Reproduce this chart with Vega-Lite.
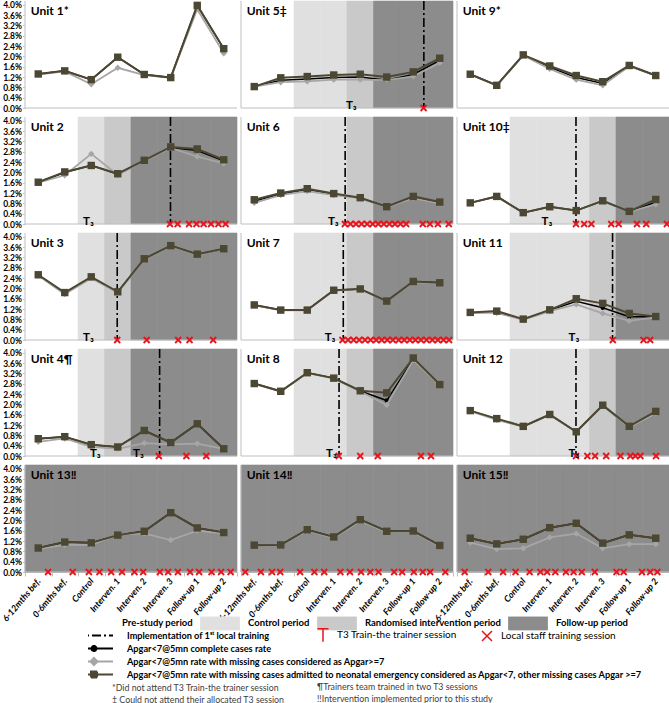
{
  "$schema": "https://vega.github.io/schema/vega-lite/v6.json",
  "padding": 0,
  "config": {
    "view": {"stroke": null},
    "font": "Lato",
    "axis": {"labelOverlap": false},
    "axisY": {"labelOverlap": false},
    "header": {"labels": false, "title": null, "labelPadding": 0, "titlePadding": 0},
    "headerFacet": {"labels": false, "title": null, "labelPadding": 0, "titlePadding": 0},
    "legend": {"padding": 0, "labelFont": "Lato", "titleFont": "Lato"}
  },
  "data": {
    "values": [
      {"kind": "m", "unit": "Unit 1*", "time": "6-12mths bef.", "period": "Pre-study period", "complete": 1.32, "missing": 1.30, "neonatal": 1.32},
      {"kind": "m", "unit": "Unit 1*", "time": "0-6mths bef.", "period": "Pre-study period", "complete": 1.44, "missing": 1.42, "neonatal": 1.44},
      {"kind": "m", "unit": "Unit 1*", "time": "Control", "period": "Pre-study period", "complete": 1.10, "missing": 0.92, "neonatal": 1.10},
      {"kind": "m", "unit": "Unit 1*", "time": "Interven. 1", "period": "Pre-study period", "complete": 1.97, "missing": 1.56, "neonatal": 1.97},
      {"kind": "m", "unit": "Unit 1*", "time": "Interven. 2", "period": "Pre-study period", "complete": 1.30, "missing": 1.28, "neonatal": 1.30},
      {"kind": "m", "unit": "Unit 1*", "time": "Interven. 3", "period": "Pre-study period", "complete": 1.18, "missing": 1.17, "neonatal": 1.18},
      {"kind": "m", "unit": "Unit 1*", "time": "Follow-up 1", "period": "Pre-study period", "complete": 3.98, "missing": 3.83, "neonatal": 3.98},
      {"kind": "m", "unit": "Unit 1*", "time": "Follow-up 2", "period": "Pre-study period", "complete": 2.30, "missing": 2.12, "neonatal": 2.30},

      {"kind": "m", "unit": "Unit 2", "time": "6-12mths bef.", "period": "Pre-study period", "complete": 1.62, "missing": 1.60, "neonatal": 1.62},
      {"kind": "m", "unit": "Unit 2", "time": "0-6mths bef.", "period": "Pre-study period", "complete": 2.00, "missing": 1.89, "neonatal": 2.02},
      {"kind": "m", "unit": "Unit 2", "time": "Control", "period": "Control period", "complete": 2.28, "missing": 2.72, "neonatal": 2.27},
      {"kind": "m", "unit": "Unit 2", "time": "Interven. 1", "period": "Randomised intervention period", "complete": 1.93, "missing": 1.90, "neonatal": 1.95},
      {"kind": "m", "unit": "Unit 2", "time": "Interven. 2", "period": "Follow-up period", "complete": 2.46, "missing": 2.45, "neonatal": 2.47},
      {"kind": "m", "unit": "Unit 2", "time": "Interven. 3", "period": "Follow-up period", "complete": 2.97, "missing": 2.95, "neonatal": 2.99},
      {"kind": "m", "unit": "Unit 2", "time": "Follow-up 1", "period": "Follow-up period", "complete": 2.85, "missing": 2.61, "neonatal": 2.91},
      {"kind": "m", "unit": "Unit 2", "time": "Follow-up 2", "period": "Follow-up period", "complete": 2.45, "missing": 2.35, "neonatal": 2.49},

      {"kind": "m", "unit": "Unit 3", "time": "6-12mths bef.", "period": "Pre-study period", "complete": 2.52, "missing": 2.50, "neonatal": 2.53},
      {"kind": "m", "unit": "Unit 3", "time": "0-6mths bef.", "period": "Pre-study period", "complete": 1.82, "missing": 1.78, "neonatal": 1.84},
      {"kind": "m", "unit": "Unit 3", "time": "Control", "period": "Control period", "complete": 2.43, "missing": 2.40, "neonatal": 2.45},
      {"kind": "m", "unit": "Unit 3", "time": "Interven. 1", "period": "Randomised intervention period", "complete": 1.86, "missing": 1.84, "neonatal": 1.87},
      {"kind": "m", "unit": "Unit 3", "time": "Interven. 2", "period": "Follow-up period", "complete": 3.14, "missing": 3.12, "neonatal": 3.15},
      {"kind": "m", "unit": "Unit 3", "time": "Interven. 3", "period": "Follow-up period", "complete": 3.65, "missing": 3.64, "neonatal": 3.66},
      {"kind": "m", "unit": "Unit 3", "time": "Follow-up 1", "period": "Follow-up period", "complete": 3.32, "missing": 3.30, "neonatal": 3.33},
      {"kind": "m", "unit": "Unit 3", "time": "Follow-up 2", "period": "Follow-up period", "complete": 3.53, "missing": 3.52, "neonatal": 3.54},

      {"kind": "m", "unit": "Unit 4¶", "time": "6-12mths bef.", "period": "Pre-study period", "complete": 0.67, "missing": 0.55, "neonatal": 0.67},
      {"kind": "m", "unit": "Unit 4¶", "time": "0-6mths bef.", "period": "Pre-study period", "complete": 0.75, "missing": 0.68, "neonatal": 0.75},
      {"kind": "m", "unit": "Unit 4¶", "time": "Control", "period": "Control period", "complete": 0.44, "missing": 0.35, "neonatal": 0.44},
      {"kind": "m", "unit": "Unit 4¶", "time": "Interven. 1", "period": "Randomised intervention period", "complete": 0.35, "missing": 0.28, "neonatal": 0.35},
      {"kind": "m", "unit": "Unit 4¶", "time": "Interven. 2", "period": "Follow-up period", "complete": 0.99, "missing": 0.50, "neonatal": 0.99},
      {"kind": "m", "unit": "Unit 4¶", "time": "Interven. 3", "period": "Follow-up period", "complete": 0.52, "missing": 0.45, "neonatal": 0.52},
      {"kind": "m", "unit": "Unit 4¶", "time": "Follow-up 1", "period": "Follow-up period", "complete": 1.25, "missing": 0.48, "neonatal": 1.25},
      {"kind": "m", "unit": "Unit 4¶", "time": "Follow-up 2", "period": "Follow-up period", "complete": 0.28, "missing": 0.28, "neonatal": 0.28},

      {"kind": "m", "unit": "Unit 13‼", "time": "6-12mths bef.", "period": "Follow-up period", "complete": 0.93, "missing": 0.90, "neonatal": 0.93},
      {"kind": "m", "unit": "Unit 13‼", "time": "0-6mths bef.", "period": "Follow-up period", "complete": 1.16, "missing": 1.05, "neonatal": 1.16},
      {"kind": "m", "unit": "Unit 13‼", "time": "Control", "period": "Follow-up period", "complete": 1.13, "missing": 1.05, "neonatal": 1.13},
      {"kind": "m", "unit": "Unit 13‼", "time": "Interven. 1", "period": "Follow-up period", "complete": 1.43, "missing": 1.45, "neonatal": 1.43},
      {"kind": "m", "unit": "Unit 13‼", "time": "Interven. 2", "period": "Follow-up period", "complete": 1.58, "missing": 1.50, "neonatal": 1.58},
      {"kind": "m", "unit": "Unit 13‼", "time": "Interven. 3", "period": "Follow-up period", "complete": 2.30, "missing": 1.24, "neonatal": 2.30},
      {"kind": "m", "unit": "Unit 13‼", "time": "Follow-up 1", "period": "Follow-up period", "complete": 1.71, "missing": 1.60, "neonatal": 1.71},
      {"kind": "m", "unit": "Unit 13‼", "time": "Follow-up 2", "period": "Follow-up period", "complete": 1.53, "missing": 1.50, "neonatal": 1.53},

      {"kind": "m", "unit": "Unit 5‡", "time": "6-12mths bef.", "period": "Pre-study period", "complete": 0.83, "missing": 0.83, "neonatal": 0.83},
      {"kind": "m", "unit": "Unit 5‡", "time": "0-6mths bef.", "period": "Pre-study period", "complete": 1.08, "missing": 1.00, "neonatal": 1.17},
      {"kind": "m", "unit": "Unit 5‡", "time": "Control", "period": "Control period", "complete": 1.12, "missing": 1.03, "neonatal": 1.22},
      {"kind": "m", "unit": "Unit 5‡", "time": "Interven. 1", "period": "Control period", "complete": 1.18, "missing": 1.10, "neonatal": 1.28},
      {"kind": "m", "unit": "Unit 5‡", "time": "Interven. 2", "period": "Randomised intervention period", "complete": 1.20, "missing": 1.10, "neonatal": 1.31},
      {"kind": "m", "unit": "Unit 5‡", "time": "Interven. 3", "period": "Follow-up period", "complete": 1.08, "missing": 1.08, "neonatal": 1.20},
      {"kind": "m", "unit": "Unit 5‡", "time": "Follow-up 1", "period": "Follow-up period", "complete": 1.30, "missing": 1.23, "neonatal": 1.40},
      {"kind": "m", "unit": "Unit 5‡", "time": "Follow-up 2", "period": "Follow-up period", "complete": 1.85, "missing": 1.75, "neonatal": 1.93},

      {"kind": "m", "unit": "Unit 6", "time": "6-12mths bef.", "period": "Pre-study period", "complete": 0.88, "missing": 0.82, "neonatal": 0.94},
      {"kind": "m", "unit": "Unit 6", "time": "0-6mths bef.", "period": "Pre-study period", "complete": 1.16, "missing": 1.12, "neonatal": 1.20},
      {"kind": "m", "unit": "Unit 6", "time": "Control", "period": "Control period", "complete": 1.33, "missing": 1.28, "neonatal": 1.37},
      {"kind": "m", "unit": "Unit 6", "time": "Interven. 1", "period": "Control period", "complete": 1.15, "missing": 1.12, "neonatal": 1.18},
      {"kind": "m", "unit": "Unit 6", "time": "Interven. 2", "period": "Randomised intervention period", "complete": 1.01, "missing": 1.00, "neonatal": 1.02},
      {"kind": "m", "unit": "Unit 6", "time": "Interven. 3", "period": "Follow-up period", "complete": 0.66, "missing": 0.65, "neonatal": 0.67},
      {"kind": "m", "unit": "Unit 6", "time": "Follow-up 1", "period": "Follow-up period", "complete": 1.04, "missing": 1.00, "neonatal": 1.07},
      {"kind": "m", "unit": "Unit 6", "time": "Follow-up 2", "period": "Follow-up period", "complete": 0.83, "missing": 0.80, "neonatal": 0.85},

      {"kind": "m", "unit": "Unit 7", "time": "6-12mths bef.", "period": "Pre-study period", "complete": 1.36, "missing": 1.35, "neonatal": 1.36},
      {"kind": "m", "unit": "Unit 7", "time": "0-6mths bef.", "period": "Pre-study period", "complete": 1.16, "missing": 1.15, "neonatal": 1.16},
      {"kind": "m", "unit": "Unit 7", "time": "Control", "period": "Control period", "complete": 1.16, "missing": 1.15, "neonatal": 1.16},
      {"kind": "m", "unit": "Unit 7", "time": "Interven. 1", "period": "Control period", "complete": 1.93, "missing": 1.92, "neonatal": 1.93},
      {"kind": "m", "unit": "Unit 7", "time": "Interven. 2", "period": "Randomised intervention period", "complete": 1.98, "missing": 1.97, "neonatal": 1.98},
      {"kind": "m", "unit": "Unit 7", "time": "Interven. 3", "period": "Follow-up period", "complete": 1.51, "missing": 1.50, "neonatal": 1.51},
      {"kind": "m", "unit": "Unit 7", "time": "Follow-up 1", "period": "Follow-up period", "complete": 2.27, "missing": 2.25, "neonatal": 2.27},
      {"kind": "m", "unit": "Unit 7", "time": "Follow-up 2", "period": "Follow-up period", "complete": 2.22, "missing": 2.20, "neonatal": 2.22},

      {"kind": "m", "unit": "Unit 8", "time": "6-12mths bef.", "period": "Pre-study period", "complete": 2.81, "missing": 2.80, "neonatal": 2.81},
      {"kind": "m", "unit": "Unit 8", "time": "0-6mths bef.", "period": "Pre-study period", "complete": 2.51, "missing": 2.50, "neonatal": 2.51},
      {"kind": "m", "unit": "Unit 8", "time": "Control", "period": "Control period", "complete": 3.23, "missing": 3.22, "neonatal": 3.23},
      {"kind": "m", "unit": "Unit 8", "time": "Interven. 1", "period": "Control period", "complete": 3.02, "missing": 3.00, "neonatal": 3.02},
      {"kind": "m", "unit": "Unit 8", "time": "Interven. 2", "period": "Randomised intervention period", "complete": 2.52, "missing": 2.50, "neonatal": 2.53},
      {"kind": "m", "unit": "Unit 8", "time": "Interven. 3", "period": "Follow-up period", "complete": 2.15, "missing": 1.98, "neonatal": 2.45},
      {"kind": "m", "unit": "Unit 8", "time": "Follow-up 1", "period": "Follow-up period", "complete": 3.76, "missing": 3.72, "neonatal": 3.80},
      {"kind": "m", "unit": "Unit 8", "time": "Follow-up 2", "period": "Follow-up period", "complete": 2.77, "missing": 2.75, "neonatal": 2.77},

      {"kind": "m", "unit": "Unit 14‼", "time": "6-12mths bef.", "period": "Follow-up period", "complete": 1.04, "missing": 1.02, "neonatal": 1.04},
      {"kind": "m", "unit": "Unit 14‼", "time": "0-6mths bef.", "period": "Follow-up period", "complete": 1.05, "missing": 1.03, "neonatal": 1.05},
      {"kind": "m", "unit": "Unit 14‼", "time": "Control", "period": "Follow-up period", "complete": 1.64, "missing": 1.60, "neonatal": 1.64},
      {"kind": "m", "unit": "Unit 14‼", "time": "Interven. 1", "period": "Follow-up period", "complete": 1.36, "missing": 1.33, "neonatal": 1.36},
      {"kind": "m", "unit": "Unit 14‼", "time": "Interven. 2", "period": "Follow-up period", "complete": 2.03, "missing": 1.98, "neonatal": 2.03},
      {"kind": "m", "unit": "Unit 14‼", "time": "Interven. 3", "period": "Follow-up period", "complete": 1.58, "missing": 1.55, "neonatal": 1.58},
      {"kind": "m", "unit": "Unit 14‼", "time": "Follow-up 1", "period": "Follow-up period", "complete": 1.59, "missing": 1.55, "neonatal": 1.59},
      {"kind": "m", "unit": "Unit 14‼", "time": "Follow-up 2", "period": "Follow-up period", "complete": 1.03, "missing": 1.00, "neonatal": 1.03},

      {"kind": "m", "unit": "Unit 9*", "time": "6-12mths bef.", "period": "Pre-study period", "complete": 1.31, "missing": 1.30, "neonatal": 1.31},
      {"kind": "m", "unit": "Unit 9*", "time": "0-6mths bef.", "period": "Pre-study period", "complete": 0.88, "missing": 0.88, "neonatal": 0.88},
      {"kind": "m", "unit": "Unit 9*", "time": "Control", "period": "Pre-study period", "complete": 2.05, "missing": 2.04, "neonatal": 2.06},
      {"kind": "m", "unit": "Unit 9*", "time": "Interven. 1", "period": "Pre-study period", "complete": 1.58, "missing": 1.52, "neonatal": 1.63},
      {"kind": "m", "unit": "Unit 9*", "time": "Interven. 2", "period": "Pre-study period", "complete": 1.18, "missing": 1.10, "neonatal": 1.26},
      {"kind": "m", "unit": "Unit 9*", "time": "Interven. 3", "period": "Pre-study period", "complete": 0.95, "missing": 0.88, "neonatal": 1.02},
      {"kind": "m", "unit": "Unit 9*", "time": "Follow-up 1", "period": "Pre-study period", "complete": 1.64, "missing": 1.62, "neonatal": 1.65},
      {"kind": "m", "unit": "Unit 9*", "time": "Follow-up 2", "period": "Pre-study period", "complete": 1.26, "missing": 1.25, "neonatal": 1.26},

      {"kind": "m", "unit": "Unit 10‡", "time": "6-12mths bef.", "period": "Pre-study period", "complete": 0.82, "missing": 0.82, "neonatal": 0.82},
      {"kind": "m", "unit": "Unit 10‡", "time": "0-6mths bef.", "period": "Pre-study period", "complete": 1.07, "missing": 1.07, "neonatal": 1.07},
      {"kind": "m", "unit": "Unit 10‡", "time": "Control", "period": "Control period", "complete": 0.44, "missing": 0.44, "neonatal": 0.44},
      {"kind": "m", "unit": "Unit 10‡", "time": "Interven. 1", "period": "Control period", "complete": 0.67, "missing": 0.67, "neonatal": 0.67},
      {"kind": "m", "unit": "Unit 10‡", "time": "Interven. 2", "period": "Control period", "complete": 0.52, "missing": 0.52, "neonatal": 0.52},
      {"kind": "m", "unit": "Unit 10‡", "time": "Interven. 3", "period": "Randomised intervention period", "complete": 0.90, "missing": 0.90, "neonatal": 0.90},
      {"kind": "m", "unit": "Unit 10‡", "time": "Follow-up 1", "period": "Follow-up period", "complete": 0.48, "missing": 0.47, "neonatal": 0.49},
      {"kind": "m", "unit": "Unit 10‡", "time": "Follow-up 2", "period": "Follow-up period", "complete": 0.85, "missing": 0.76, "neonatal": 0.95},

      {"kind": "m", "unit": "Unit 11", "time": "6-12mths bef.", "period": "Pre-study period", "complete": 1.06, "missing": 1.05, "neonatal": 1.07},
      {"kind": "m", "unit": "Unit 11", "time": "0-6mths bef.", "period": "Pre-study period", "complete": 1.09, "missing": 1.05, "neonatal": 1.12},
      {"kind": "m", "unit": "Unit 11", "time": "Control", "period": "Control period", "complete": 0.80, "missing": 0.78, "neonatal": 0.81},
      {"kind": "m", "unit": "Unit 11", "time": "Interven. 1", "period": "Control period", "complete": 1.15, "missing": 1.12, "neonatal": 1.17},
      {"kind": "m", "unit": "Unit 11", "time": "Interven. 2", "period": "Control period", "complete": 1.50, "missing": 1.38, "neonatal": 1.60},
      {"kind": "m", "unit": "Unit 11", "time": "Interven. 3", "period": "Randomised intervention period", "complete": 1.25, "missing": 1.03, "neonatal": 1.42},
      {"kind": "m", "unit": "Unit 11", "time": "Follow-up 1", "period": "Follow-up period", "complete": 0.90, "missing": 0.74, "neonatal": 1.03},
      {"kind": "m", "unit": "Unit 11", "time": "Follow-up 2", "period": "Follow-up period", "complete": 0.90, "missing": 0.88, "neonatal": 0.91},

      {"kind": "m", "unit": "Unit 12", "time": "6-12mths bef.", "period": "Pre-study period", "complete": 1.75, "missing": 1.74, "neonatal": 1.76},
      {"kind": "m", "unit": "Unit 12", "time": "0-6mths bef.", "period": "Pre-study period", "complete": 1.43, "missing": 1.40, "neonatal": 1.45},
      {"kind": "m", "unit": "Unit 12", "time": "Control", "period": "Control period", "complete": 1.15, "missing": 1.14, "neonatal": 1.15},
      {"kind": "m", "unit": "Unit 12", "time": "Interven. 1", "period": "Control period", "complete": 1.60, "missing": 1.60, "neonatal": 1.61},
      {"kind": "m", "unit": "Unit 12", "time": "Interven. 2", "period": "Control period", "complete": 0.94, "missing": 0.93, "neonatal": 0.94},
      {"kind": "m", "unit": "Unit 12", "time": "Interven. 3", "period": "Randomised intervention period", "complete": 1.96, "missing": 1.95, "neonatal": 1.97},
      {"kind": "m", "unit": "Unit 12", "time": "Follow-up 1", "period": "Follow-up period", "complete": 1.14, "missing": 1.12, "neonatal": 1.15},
      {"kind": "m", "unit": "Unit 12", "time": "Follow-up 2", "period": "Follow-up period", "complete": 1.70, "missing": 1.65, "neonatal": 1.73},

      {"kind": "m", "unit": "Unit 15‼", "time": "6-12mths bef.", "period": "Follow-up period", "complete": 1.31, "missing": 1.14, "neonatal": 1.31},
      {"kind": "m", "unit": "Unit 15‼", "time": "0-6mths bef.", "period": "Follow-up period", "complete": 1.09, "missing": 0.89, "neonatal": 1.09},
      {"kind": "m", "unit": "Unit 15‼", "time": "Control", "period": "Follow-up period", "complete": 1.27, "missing": 0.92, "neonatal": 1.27},
      {"kind": "m", "unit": "Unit 15‼", "time": "Interven. 1", "period": "Follow-up period", "complete": 1.72, "missing": 1.34, "neonatal": 1.72},
      {"kind": "m", "unit": "Unit 15‼", "time": "Interven. 2", "period": "Follow-up period", "complete": 1.89, "missing": 1.49, "neonatal": 1.89},
      {"kind": "m", "unit": "Unit 15‼", "time": "Interven. 3", "period": "Follow-up period", "complete": 1.12, "missing": 0.92, "neonatal": 1.12},
      {"kind": "m", "unit": "Unit 15‼", "time": "Follow-up 1", "period": "Follow-up period", "complete": 1.44, "missing": 1.08, "neonatal": 1.44},
      {"kind": "m", "unit": "Unit 15‼", "time": "Follow-up 2", "period": "Follow-up period", "complete": 1.31, "missing": 1.08, "neonatal": 1.31},

      {"kind": "impl", "unit": "Unit 2", "time": "Interven. 3", "off": 0.49},
      {"kind": "impl", "unit": "Unit 3", "time": "Interven. 1", "off": 0.48},
      {"kind": "impl", "unit": "Unit 4¶", "time": "Interven. 3", "off": 0.08},
      {"kind": "impl", "unit": "Unit 5‡", "time": "Follow-up 1", "off": 0.90},
      {"kind": "impl", "unit": "Unit 6", "time": "Interven. 1", "off": 0.93},
      {"kind": "impl", "unit": "Unit 7", "time": "Interven. 1", "off": 0.86},
      {"kind": "impl", "unit": "Unit 8", "time": "Interven. 1", "off": 0.70},
      {"kind": "impl", "unit": "Unit 10‡", "time": "Interven. 2", "off": 0.49},
      {"kind": "impl", "unit": "Unit 11", "time": "Interven. 3", "off": 0.87},
      {"kind": "impl", "unit": "Unit 12", "time": "Interven. 2", "off": 0.49},

      {"kind": "t3", "unit": "Unit 2", "time": "Control", "off": 0.34},
      {"kind": "t3", "unit": "Unit 3", "time": "Control", "off": 0.34},
      {"kind": "t3", "unit": "Unit 4¶", "time": "Control", "off": 0.60},
      {"kind": "t3", "unit": "Unit 4¶", "time": "Interven. 2", "off": 0.23},
      {"kind": "t3", "unit": "Unit 5‡", "time": "Interven. 2", "off": 0.11},
      {"kind": "t3", "unit": "Unit 6", "time": "Interven. 1", "off": 0.43},
      {"kind": "t3", "unit": "Unit 7", "time": "Interven. 1", "off": 0.31},
      {"kind": "t3", "unit": "Unit 8", "time": "Interven. 1", "off": 0.36},
      {"kind": "t3", "unit": "Unit 10‡", "time": "Interven. 1", "off": 0.34},
      {"kind": "t3", "unit": "Unit 11", "time": "Interven. 2", "off": 0.36},
      {"kind": "t3", "unit": "Unit 12", "time": "Interven. 2", "off": 0.36},

      {"kind": "x", "unit": "Unit 2", "time": "Interven. 3", "off": 0.47},
      {"kind": "x", "unit": "Unit 2", "time": "Interven. 3", "off": 0.76},
      {"kind": "x", "unit": "Unit 2", "time": "Follow-up 1", "off": 0.19},
      {"kind": "x", "unit": "Unit 2", "time": "Follow-up 1", "off": 0.47},
      {"kind": "x", "unit": "Unit 2", "time": "Follow-up 1", "off": 0.74},
      {"kind": "x", "unit": "Unit 2", "time": "Follow-up 2", "off": 0.02},
      {"kind": "x", "unit": "Unit 2", "time": "Follow-up 2", "off": 0.30},
      {"kind": "x", "unit": "Unit 2", "time": "Follow-up 2", "off": 0.57},
      {"kind": "x", "unit": "Unit 3", "time": "Interven. 1", "off": 0.48},
      {"kind": "x", "unit": "Unit 3", "time": "Interven. 2", "off": 0.59},
      {"kind": "x", "unit": "Unit 3", "time": "Interven. 3", "off": 0.78},
      {"kind": "x", "unit": "Unit 3", "time": "Follow-up 1", "off": 0.21},
      {"kind": "x", "unit": "Unit 3", "time": "Follow-up 2", "off": 0.10},
      {"kind": "x", "unit": "Unit 4¶", "time": "Interven. 3", "off": 0.05},
      {"kind": "x", "unit": "Unit 4¶", "time": "Follow-up 1", "off": 0.09},
      {"kind": "x", "unit": "Unit 4¶", "time": "Follow-up 1", "off": 0.84},
      {"kind": "x", "unit": "Unit 5‡", "time": "Follow-up 1", "off": 0.89},
      {"kind": "x", "unit": "Unit 6", "time": "Interven. 1", "off": 0.92},
      {"kind": "x", "unit": "Unit 6", "time": "Interven. 2", "off": 0.13},
      {"kind": "x", "unit": "Unit 6", "time": "Interven. 2", "off": 0.34},
      {"kind": "x", "unit": "Unit 6", "time": "Interven. 2", "off": 0.55},
      {"kind": "x", "unit": "Unit 6", "time": "Interven. 2", "off": 0.76},
      {"kind": "x", "unit": "Unit 6", "time": "Interven. 2", "off": 0.97},
      {"kind": "x", "unit": "Unit 6", "time": "Interven. 3", "off": 0.18},
      {"kind": "x", "unit": "Unit 6", "time": "Interven. 3", "off": 0.39},
      {"kind": "x", "unit": "Unit 6", "time": "Interven. 3", "off": 0.60},
      {"kind": "x", "unit": "Unit 6", "time": "Interven. 3", "off": 0.81},
      {"kind": "x", "unit": "Unit 6", "time": "Follow-up 1", "off": 0.02},
      {"kind": "x", "unit": "Unit 6", "time": "Follow-up 1", "off": 0.23},
      {"kind": "x", "unit": "Unit 6", "time": "Follow-up 1", "off": 0.86},
      {"kind": "x", "unit": "Unit 6", "time": "Follow-up 2", "off": 0.13},
      {"kind": "x", "unit": "Unit 6", "time": "Follow-up 2", "off": 0.43},
      {"kind": "x", "unit": "Unit 6", "time": "Follow-up 2", "off": 0.84},
      {"kind": "x", "unit": "Unit 7", "time": "Interven. 1", "off": 0.83},
      {"kind": "x", "unit": "Unit 7", "time": "Interven. 2", "off": 0.04},
      {"kind": "x", "unit": "Unit 7", "time": "Interven. 2", "off": 0.25},
      {"kind": "x", "unit": "Unit 7", "time": "Interven. 2", "off": 0.46},
      {"kind": "x", "unit": "Unit 7", "time": "Interven. 2", "off": 0.68},
      {"kind": "x", "unit": "Unit 7", "time": "Interven. 2", "off": 0.89},
      {"kind": "x", "unit": "Unit 7", "time": "Interven. 3", "off": 0.10},
      {"kind": "x", "unit": "Unit 7", "time": "Interven. 3", "off": 0.31},
      {"kind": "x", "unit": "Unit 7", "time": "Interven. 3", "off": 0.52},
      {"kind": "x", "unit": "Unit 7", "time": "Interven. 3", "off": 0.73},
      {"kind": "x", "unit": "Unit 7", "time": "Interven. 3", "off": 0.95},
      {"kind": "x", "unit": "Unit 7", "time": "Follow-up 1", "off": 0.16},
      {"kind": "x", "unit": "Unit 7", "time": "Follow-up 1", "off": 0.37},
      {"kind": "x", "unit": "Unit 7", "time": "Follow-up 1", "off": 0.58},
      {"kind": "x", "unit": "Unit 7", "time": "Follow-up 1", "off": 0.79},
      {"kind": "x", "unit": "Unit 7", "time": "Follow-up 2", "off": 0.00},
      {"kind": "x", "unit": "Unit 7", "time": "Follow-up 2", "off": 0.22},
      {"kind": "x", "unit": "Unit 7", "time": "Follow-up 2", "off": 0.43},
      {"kind": "x", "unit": "Unit 7", "time": "Follow-up 2", "off": 0.64},
      {"kind": "x", "unit": "Unit 7", "time": "Follow-up 2", "off": 0.85},
      {"kind": "x", "unit": "Unit 8", "time": "Interven. 1", "off": 0.69},
      {"kind": "x", "unit": "Unit 8", "time": "Interven. 2", "off": 0.50},
      {"kind": "x", "unit": "Unit 8", "time": "Interven. 3", "off": 0.16},
      {"kind": "x", "unit": "Unit 8", "time": "Follow-up 1", "off": 0.79},
      {"kind": "x", "unit": "Unit 8", "time": "Follow-up 2", "off": 0.17},
      {"kind": "x", "unit": "Unit 10‡", "time": "Interven. 2", "off": 0.49},
      {"kind": "x", "unit": "Unit 10‡", "time": "Interven. 2", "off": 0.80},
      {"kind": "x", "unit": "Unit 10‡", "time": "Interven. 3", "off": 0.07},
      {"kind": "x", "unit": "Unit 10‡", "time": "Interven. 3", "off": 0.82},
      {"kind": "x", "unit": "Unit 10‡", "time": "Follow-up 1", "off": 0.10},
      {"kind": "x", "unit": "Unit 10‡", "time": "Follow-up 1", "off": 0.79},
      {"kind": "x", "unit": "Unit 10‡", "time": "Follow-up 2", "off": 0.14},
      {"kind": "x", "unit": "Unit 10‡", "time": "Follow-up 2", "off": 0.92},
      {"kind": "x", "unit": "Unit 11", "time": "Interven. 3", "off": 0.88},
      {"kind": "x", "unit": "Unit 11", "time": "Follow-up 2", "off": 0.04},
      {"kind": "x", "unit": "Unit 11", "time": "Follow-up 2", "off": 0.29},
      {"kind": "x", "unit": "Unit 12", "time": "Interven. 2", "off": 0.49},
      {"kind": "x", "unit": "Unit 12", "time": "Interven. 2", "off": 0.92},
      {"kind": "x", "unit": "Unit 12", "time": "Interven. 3", "off": 0.21},
      {"kind": "x", "unit": "Unit 12", "time": "Interven. 3", "off": 0.63},
      {"kind": "x", "unit": "Unit 12", "time": "Follow-up 1", "off": 0.17},
      {"kind": "x", "unit": "Unit 12", "time": "Follow-up 1", "off": 0.54},
      {"kind": "x", "unit": "Unit 12", "time": "Follow-up 1", "off": 0.73},
      {"kind": "x", "unit": "Unit 12", "time": "Follow-up 1", "off": 0.92},
      {"kind": "x", "unit": "Unit 12", "time": "Follow-up 2", "off": 0.51},
      {"kind": "x", "unit": "Unit 13‼", "time": "6-12mths bef.", "off": 0.87},
      {"kind": "x", "unit": "Unit 13‼", "time": "0-6mths bef.", "off": 0.80},
      {"kind": "x", "unit": "Unit 13‼", "time": "Control", "off": 0.41},
      {"kind": "x", "unit": "Unit 13‼", "time": "Control", "off": 0.81},
      {"kind": "x", "unit": "Unit 13‼", "time": "Interven. 1", "off": 0.25},
      {"kind": "x", "unit": "Unit 13‼", "time": "Interven. 1", "off": 0.66},
      {"kind": "x", "unit": "Unit 13‼", "time": "Interven. 2", "off": 0.13},
      {"kind": "x", "unit": "Unit 13‼", "time": "Interven. 2", "off": 0.46},
      {"kind": "x", "unit": "Unit 13‼", "time": "Interven. 3", "off": 0.09},
      {"kind": "x", "unit": "Unit 13‼", "time": "Interven. 3", "off": 0.40},
      {"kind": "x", "unit": "Unit 13‼", "time": "Interven. 3", "off": 0.77},
      {"kind": "x", "unit": "Unit 13‼", "time": "Follow-up 1", "off": 0.23},
      {"kind": "x", "unit": "Unit 13‼", "time": "Follow-up 1", "off": 0.57},
      {"kind": "x", "unit": "Unit 13‼", "time": "Follow-up 2", "off": 0.04},
      {"kind": "x", "unit": "Unit 13‼", "time": "Follow-up 2", "off": 0.40},
      {"kind": "x", "unit": "Unit 13‼", "time": "Follow-up 2", "off": 0.76},
      {"kind": "x", "unit": "Unit 14‼", "time": "6-12mths bef.", "off": 0.16},
      {"kind": "x", "unit": "Unit 14‼", "time": "6-12mths bef.", "off": 0.75},
      {"kind": "x", "unit": "Unit 14‼", "time": "0-6mths bef.", "off": 0.17},
      {"kind": "x", "unit": "Unit 14‼", "time": "0-6mths bef.", "off": 0.48},
      {"kind": "x", "unit": "Unit 14‼", "time": "Control", "off": 0.23},
      {"kind": "x", "unit": "Unit 14‼", "time": "Control", "off": 0.77},
      {"kind": "x", "unit": "Unit 14‼", "time": "Interven. 1", "off": 0.14},
      {"kind": "x", "unit": "Unit 14‼", "time": "Interven. 1", "off": 0.75},
      {"kind": "x", "unit": "Unit 14‼", "time": "Interven. 2", "off": 0.11},
      {"kind": "x", "unit": "Unit 14‼", "time": "Interven. 2", "off": 0.53},
      {"kind": "x", "unit": "Unit 14‼", "time": "Interven. 2", "off": 0.88},
      {"kind": "x", "unit": "Unit 14‼", "time": "Interven. 3", "off": 0.19},
      {"kind": "x", "unit": "Unit 14‼", "time": "Interven. 3", "off": 0.78},
      {"kind": "x", "unit": "Unit 14‼", "time": "Follow-up 1", "off": 0.08},
      {"kind": "x", "unit": "Unit 14‼", "time": "Follow-up 1", "off": 0.52},
      {"kind": "x", "unit": "Unit 14‼", "time": "Follow-up 1", "off": 0.86},
      {"kind": "x", "unit": "Unit 14‼", "time": "Follow-up 2", "off": 0.14},
      {"kind": "x", "unit": "Unit 14‼", "time": "Follow-up 2", "off": 0.71},
      {"kind": "x", "unit": "Unit 15‼", "time": "6-12mths bef.", "off": 0.29},
      {"kind": "x", "unit": "Unit 15‼", "time": "0-6mths bef.", "off": 0.18},
      {"kind": "x", "unit": "Unit 15‼", "time": "0-6mths bef.", "off": 0.74},
      {"kind": "x", "unit": "Unit 15‼", "time": "Control", "off": 0.21},
      {"kind": "x", "unit": "Unit 15‼", "time": "Control", "off": 0.74},
      {"kind": "x", "unit": "Unit 15‼", "time": "Interven. 1", "off": 0.15},
      {"kind": "x", "unit": "Unit 15‼", "time": "Interven. 1", "off": 0.40},
      {"kind": "x", "unit": "Unit 15‼", "time": "Interven. 1", "off": 0.71},
      {"kind": "x", "unit": "Unit 15‼", "time": "Interven. 2", "off": 0.11},
      {"kind": "x", "unit": "Unit 15‼", "time": "Interven. 2", "off": 0.40},
      {"kind": "x", "unit": "Unit 15‼", "time": "Interven. 2", "off": 0.71},
      {"kind": "x", "unit": "Unit 15‼", "time": "Interven. 3", "off": 0.20},
      {"kind": "x", "unit": "Unit 15‼", "time": "Follow-up 1", "off": 0.02},
      {"kind": "x", "unit": "Unit 15‼", "time": "Follow-up 1", "off": 0.29},
      {"kind": "x", "unit": "Unit 15‼", "time": "Follow-up 1", "off": 0.98},
      {"kind": "x", "unit": "Unit 15‼", "time": "Follow-up 2", "off": 0.29},
      {"kind": "x", "unit": "Unit 15‼", "time": "Follow-up 2", "off": 0.56}
    ]
  },
  "facet": {
    "field": "unit",
    "type": "nominal",
    "sort": ["Unit 1*", "Unit 5‡", "Unit 9*", "Unit 2", "Unit 6", "Unit 10‡", "Unit 3", "Unit 7", "Unit 11", "Unit 4¶", "Unit 8", "Unit 12", "Unit 13‼", "Unit 14‼", "Unit 15‼"],
    "header": {"labels": false, "title": null, "labelExpr": "''", "labelFontSize": 0.01, "labelColor": "transparent", "labelPadding": 0}
  },
  "columns": 3,
  "spacing": {"row": 9, "column": 4},
  "bounds": "flush",
  "spec": {
    "width": 212,
    "height": 107,
    "resolve": {"scale": {"xOffset": "independent"}},
    "layer": [
      {
        "transform": [{"filter": "datum.kind == 'm'"}],
        "mark": {"type": "bar", "width": {"band": 1}, "strokeWidth": 0.6},
        "encoding": {
          "x": {"field": "time", "type": "nominal", "sort": ["6-12mths bef.", "0-6mths bef.", "Control", "Interven. 1", "Interven. 2", "Interven. 3", "Follow-up 1", "Follow-up 2"],
            "scale": {"domain": ["6-12mths bef.", "0-6mths bef.", "Control", "Interven. 1", "Interven. 2", "Interven. 3", "Follow-up 1", "Follow-up 2"], "paddingInner": 0, "paddingOuter": 0},
            "axis": {"title": null, "tickBand": "extent", "labelAngle": -50, "labelAlign": "right", "labelBaseline": "middle", "labelFontSize": 9, "labelFontStyle": "italic", "labelFontWeight": "bold", "labelColor": "#000000", "labelPadding": 3, "tickSize": 4, "tickColor": "#bfbfbf", "domainColor": "#bfbfbf"}},
          "y": {"datum": 4.15, "type": "quantitative", "scale": {"domain": [0, 4.15], "nice": false},
            "axis": {"title": null, "values": [0, 0.4, 0.8, 1.2, 1.6, 2, 2.4, 2.8, 3.2, 3.6, 4], "tickCount": 30, "labelOverlap": false, "labelSeparation": -10, "labelBound": false, "labelExpr": "format(datum.value, '.1f') + '%'", "labelFontSize": 8.5, "labelFontWeight": "bold", "labelColor": "#000000", "labelPadding": 1, "tickSize": 2.5, "tickColor": "#bfbfbf", "domainColor": "#bfbfbf", "grid": false}},
          "y2": {"datum": 0},
          "stroke": {"field": "period", "type": "nominal", "legend": null,
            "scale": {"domain": ["Pre-study period", "Control period", "Randomised intervention period", "Follow-up period"], "range": ["#ffffff", "#e0e0e0", "#c9c9c9", "#8c8c8c"]}},
          "fill": {"field": "period", "type": "nominal",
            "scale": {"domain": ["Pre-study period", "Control period", "Randomised intervention period", "Follow-up period"], "range": ["#ffffff", "#e0e0e0", "#c9c9c9", "#8c8c8c"]},
            "legend": {"orient": "none", "legendX": 62, "legendY": 615, "direction": "horizontal", "title": null, "symbolType": "M-3,-1H3V1H-3Z", "symbolSize": 169, "labelOffset": 21, "columnPadding": 5, "labelFontSize": 9.5, "labelFontWeight": "bold", "labelColor": "#000000", "symbolStrokeWidth": 0.8,
              "encode": {"symbols": {"update": {"stroke": {"signal": "datum.value == 'Pre-study period' ? '#404040' : 'transparent'"}}}}}}
        }
      },
      {
        "transform": [{"filter": "datum.kind == 'm' && datum.time == '6-12mths bef.'"}],
        "mark": {"type": "rule", "color": "#bfbfbf", "strokeWidth": 1},
        "encoding": {"y": {"datum": 0, "type": "quantitative"}}
      },
      {
        "transform": [{"filter": "datum.kind == 'm' && datum.time == '6-12mths bef.'"}],
        "mark": {"type": "rule", "color": "#bfbfbf", "strokeWidth": 1},
        "encoding": {
          "x": {"datum": "6-12mths bef.", "type": "nominal"},
          "xOffset": {"datum": 0, "type": "quantitative", "scale": {"domain": [0, 1]}}
        }
      },
      {
        "transform": [{"filter": "datum.kind == 'impl'"}],
        "mark": {"type": "rule", "strokeDash": [9, 3, 2, 3], "strokeWidth": 1.6},
        "encoding": {
          "x": {"field": "time", "type": "nominal"},
          "xOffset": {"field": "off", "type": "quantitative", "scale": {"domain": [0, 1]}},
          "color": {"datum": "Implementation of 1ˢᵗ local training", "type": "nominal",
            "scale": {"domain": ["Implementation of 1ˢᵗ local training", "Apgar<7@5mn complete cases rate", "Apgar<7@5mn rate with missing cases considered as Apgar>=7", "Apgar<7@5mn rate with missing cases  admitted to neonatal emergency considered as Apgar<7, other missing cases  Apgar >=7"], "range": ["#000000", "#000000", "#a6a6a6", "#4b4732"]},
            "legend": {"orient": "none", "legendX": 63, "legendY": 628, "direction": "vertical", "columns": 1, "symbolSize": 100, "clipHeight": 13, "labelOffset": 27, "rowPadding": 0, "labelFontSize": 9.2, "labelFontWeight": "bold", "labelColor": "#000000", "labelLimit": 600,
              "title": ["*Did not attend T3 Train-the trainer session", "‡ Could not attend their allocated T3 session"], "titleOrient": "bottom", "titleAnchor": "start", "titleFontSize": 8.8, "titleFontWeight": "normal", "titleColor": "#404040", "titleLineHeight": 11.5, "titlePadding": 3, "titleLimit": 400,
              "encode": {
                "symbols": {"update": {
                  "shape": {"signal": "indexof(datum.value, 'Implementation') == 0 ? 'M-3.8,0H3.8' : indexof(datum.value, 'complete') > 0 ? 'M-3.8,0H3.8M0.5,0A0.5,0.5,0,1,1,-0.5,0A0.5,0.5,0,1,1,0.5,0' : indexof(datum.value, 'neonatal') > 0 ? 'M-3.8,0H3.8M-0.6,-0.6H0.6V0.6H-0.6Z' : 'M-3.8,0H3.8M0,-0.7L0.7,0L0,0.7L-0.7,0Z'"},
                  "strokeDash": {"signal": "indexof(datum.value, 'Implementation') == 0 ? [9, 3, 2, 3] : [1, 0]"},
                  "strokeWidth": {"value": 2},
                  "stroke": {"signal": "indexof(datum.value, 'neonatal') > 0 ? '#4b4732' : indexof(datum.value, 'Apgar>=7') > 0 ? '#a6a6a6' : '#000000'"},
                  "fill": {"signal": "indexof(datum.value, 'Implementation') == 0 ? 'transparent' : indexof(datum.value, 'neonatal') > 0 ? '#4b4732' : indexof(datum.value, 'Apgar>=7') > 0 ? '#a6a6a6' : '#000000'"},
                  "opacity": {"value": 1}
                }},
                "title": {"update": {"dx": {"value": 24}}}
              }}}
        }
      },
      {
        "transform": [{"filter": "datum.kind == 'm'"}],
        "mark": {"type": "line", "strokeWidth": 1.5},
        "encoding": {
          "x": {"field": "time", "type": "nominal"},
          "y": {"field": "complete", "type": "quantitative", "title": null},
          "color": {"datum": "Apgar<7@5mn complete cases rate", "type": "nominal"},
          "order": {"value": null}
        }
      },
      {
        "transform": [{"filter": "datum.kind == 'm'"}],
        "mark": {"type": "point", "filled": true, "shape": "circle", "size": 20, "opacity": 1},
        "encoding": {
          "x": {"field": "time", "type": "nominal"},
          "y": {"field": "complete", "type": "quantitative", "title": null},
          "color": {"datum": "Apgar<7@5mn complete cases rate", "type": "nominal"}
        }
      },
      {
        "transform": [{"filter": "datum.kind == 'm'"}],
        "mark": {"type": "line", "strokeWidth": 1.8},
        "encoding": {
          "x": {"field": "time", "type": "nominal"},
          "y": {"field": "missing", "type": "quantitative", "title": null},
          "color": {"datum": "Apgar<7@5mn rate with missing cases considered as Apgar>=7", "type": "nominal"},
          "order": {"value": null}
        }
      },
      {
        "transform": [{"filter": "datum.kind == 'm'"}],
        "mark": {"type": "point", "filled": true, "shape": "diamond", "size": 40, "opacity": 1},
        "encoding": {
          "x": {"field": "time", "type": "nominal"},
          "y": {"field": "missing", "type": "quantitative", "title": null},
          "color": {"datum": "Apgar<7@5mn rate with missing cases considered as Apgar>=7", "type": "nominal"}
        }
      },
      {
        "transform": [{"filter": "datum.kind == 'm'"}],
        "mark": {"type": "line", "strokeWidth": 2},
        "encoding": {
          "x": {"field": "time", "type": "nominal"},
          "y": {"field": "neonatal", "type": "quantitative", "title": null},
          "color": {"datum": "Apgar<7@5mn rate with missing cases  admitted to neonatal emergency considered as Apgar<7, other missing cases  Apgar >=7", "type": "nominal"},
          "order": {"value": null}
        }
      },
      {
        "transform": [{"filter": "datum.kind == 'm'"}],
        "mark": {"type": "point", "filled": true, "shape": "square", "size": 55, "opacity": 1},
        "encoding": {
          "x": {"field": "time", "type": "nominal"},
          "y": {"field": "neonatal", "type": "quantitative", "title": null},
          "color": {"datum": "Apgar<7@5mn rate with missing cases  admitted to neonatal emergency considered as Apgar<7, other missing cases  Apgar >=7", "type": "nominal"}
        }
      },
      {
        "transform": [{"filter": "datum.kind == 'x'"}],
        "mark": {"type": "point", "filled": false, "color": "#e8141c", "strokeWidth": 1.8, "size": 36, "opacity": 1},
        "encoding": {
          "x": {"field": "time", "type": "nominal"},
          "xOffset": {"field": "off", "type": "quantitative", "scale": {"domain": [0, 1]}},
          "y": {"datum": 0, "type": "quantitative"},
          "shape": {"datum": "Local staff training session", "type": "nominal",
            "scale": {"domain": ["T3 Train-the trainer session", "Local staff training session"], "range": ["M-1.1,-1.3H1.1M0,-1.3V1.3", "M-1,-1L1,1M-1,1L1,-1"]},
            "legend": {"orient": "none", "legendX": 292, "legendY": 628, "direction": "horizontal", "symbolSize": 100, "labelOffset": 8, "columnPadding": 22, "labelLimit": 300,
              "title": ["¶Trainers team trained in two T3 sessions", "!!Intervention implemented prior to this study"], "titleOrient": "bottom", "titleAnchor": "start", "titleFontSize": 8.8, "titleFontWeight": "normal", "titleColor": "#404040", "titleLineHeight": 11.5, "titlePadding": 38, "titleLimit": 400,
              "encode": {
                "symbols": {"update": {
                  "stroke": {"signal": "datum.value == 'Local staff training session' ? '#e8141c' : '#000000'"},
                  "strokeWidth": {"signal": "datum.value == 'Local staff training session' ? 2 : 2.4"},
                  "size": {"signal": "datum.value == 'Local staff training session' ? 50 : 100"},
                  "fill": {"value": "transparent"},
                  "opacity": {"value": 1}
                }},
                "labels": {"update": {
                  "fontSize": {"signal": "datum.value == 'Local staff training session' ? 9.5 : 8.8"},
                  "fill": {"signal": "datum.value == 'Local staff training session' ? '#000000' : '#595959'"}
                }},
                "title": {"update": {"dx": {"value": -15}}}
              }}}
        }
      },
      {
        "transform": [{"filter": "datum.kind == 't3'"}],
        "mark": {"type": "text", "text": "T₃", "fontSize": 11.5, "fontWeight": "bold", "align": "left", "baseline": "bottom", "dx": -4, "dy": 3, "color": "#000000"},
        "encoding": {
          "x": {"field": "time", "type": "nominal"},
          "xOffset": {"field": "off", "type": "quantitative", "scale": {"domain": [0, 1]}},
          "y": {"datum": 0, "type": "quantitative"}
        }
      },
      {
        "transform": [{"filter": "datum.kind == 'm' && datum.time == '6-12mths bef.'"}],
        "mark": {"type": "text", "fontSize": 12, "fontWeight": "bold", "align": "left", "baseline": "middle", "color": "#000000"},
        "encoding": {
          "x": {"field": "time", "type": "nominal"},
          "xOffset": {"datum": 0.22, "type": "quantitative", "scale": {"domain": [0, 1]}},
          "y": {"datum": 3.75, "type": "quantitative"},
          "text": {"field": "unit"}
        }
      }
    ]
  }
}
